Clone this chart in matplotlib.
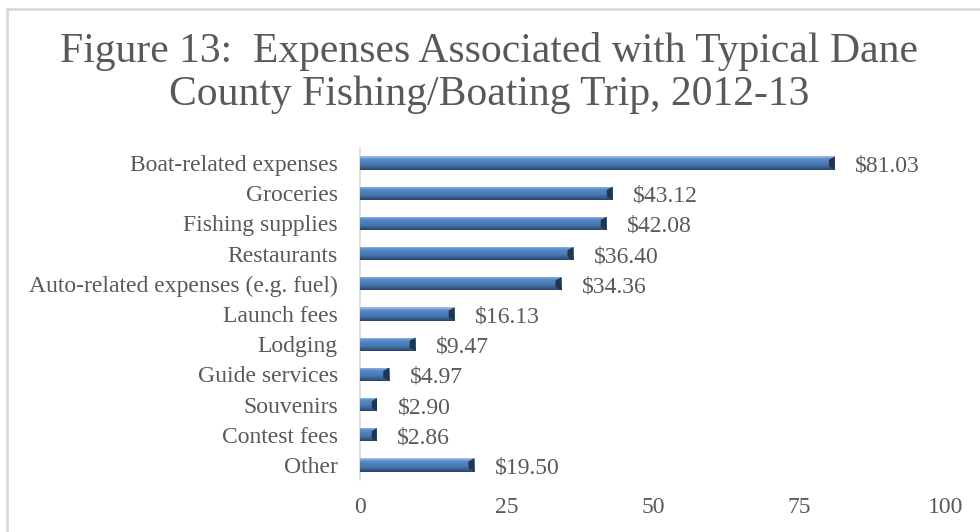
import numpy as np
import matplotlib
matplotlib.use('Agg')
import matplotlib.pyplot as plt
from matplotlib.patches import Rectangle, Polygon
from matplotlib.colors import LinearSegmentedColormap

categories = ['Boat-related expenses', 'Groceries', 'Fishing supplies', 'Restaurants',
              'Auto-related expenses (e.g. fuel)', 'Launch fees', 'Lodging',
              'Guide services', 'Souvenirs', 'Contest fees', 'Other']
expenses = [81.03, 43.12, 42.08, 36.40, 34.36, 16.13, 9.47, 4.97, 2.90, 2.86, 19.50]
x_ticks = [0, 25, 50, 75, 100]

title = 'Figure 13:  Expenses Associated with Typical Dane\nCounty Fishing/Boating Trip, 2012-13'

text_col = '#595959'
plt.rcParams['font.family'] = ['Liberation Serif', 'DejaVu Serif']

fig = plt.figure(figsize=(9.8, 5.32), dpi=100)
ax = fig.add_axes([360 / 980, 52 / 532, 586 / 980, 332 / 532])

# outer chart frame
fig.patches.append(Rectangle((7 / 980, -0.1), 1.2, 1 - 9 / 532 + 0.1, transform=fig.transFigure,
                             fill=False, edgecolor='#D9D9D9', linewidth=2))

y = np.arange(len(categories))
bar_h = 0.44
bars = ax.barh(y, expenses, height=bar_h, color='#4F81BD', linewidth=0, zorder=2)

# bevelled look: vertical gradient clipped to each bar, dark cap at the end
shade = LinearSegmentedColormap.from_list('bevel', ['#A9C4EB', '#5E8ECF', '#4F81BD',
                                                   '#4A7AB4', '#3B6292', '#26436A'])
grad = np.linspace(0, 1, 64).reshape(-1, 1)
for bar, v in zip(bars, expenses):
    y0 = bar.get_y()
    im = ax.imshow(grad, aspect='auto', cmap=shade,
                   extent=(0, v, y0 + bar_h, y0), zorder=3, interpolation='bilinear')
    im.set_clip_path(bar)
    cap = min(1.0, v * 0.3)
    ax.add_patch(Polygon([(v - cap, y0 + bar_h * 0.25), (v, y0), (v, y0 + bar_h),
                          (v - cap, y0 + bar_h * 0.75)], closed=True,
                         facecolor='#1F3550', edgecolor='none', zorder=4))
    ax.text(v + 3.5, y0 + bar_h / 2 + 0.1, '${:.2f}'.format(v), va='center', ha='left',
            fontsize=17, color=text_col)

ax.set_xlim(0, 100)
ax.set_ylim(len(categories) - 0.5, -0.5)
ax.set_xticks(x_ticks)
ax.set_yticks(y)
ax.set_yticklabels(categories)
ax.tick_params(axis='x', length=0, pad=12, labelsize=17, labelcolor=text_col)
ax.tick_params(axis='y', length=0, pad=16, labelsize=17, labelcolor=text_col)
for s in ['top', 'right', 'bottom']:
    ax.spines[s].set_visible(False)
ax.spines['left'].set_color('#D9D9D9')
ax.spines['left'].set_linewidth(1.2)

fig.text(0.499, 1 - 73 / 532, title, ha='center', va='center', fontsize=30,
         color=text_col, linespacing=1.12)

fig.savefig('out.png', dpi=100)
